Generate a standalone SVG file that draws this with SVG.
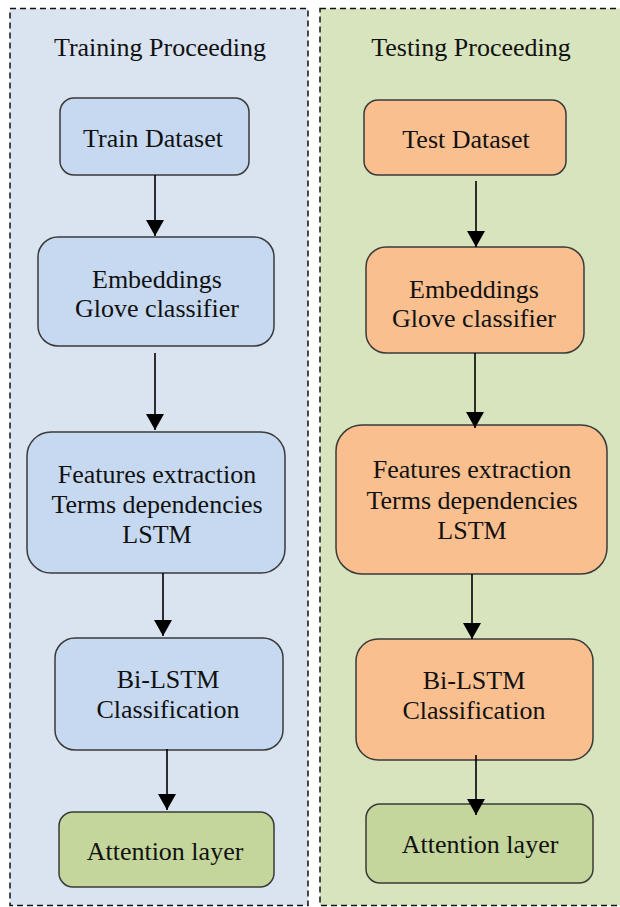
<svg xmlns="http://www.w3.org/2000/svg" width="620" height="907" viewBox="0 0 620 907">
<style>
.panel{stroke:#111;stroke-width:1.5;stroke-dasharray:6 4}
.node{stroke:#3a3a3a;stroke-width:1.5}
.blue{fill:#c6d9f0}
.orange{fill:#f9bf8f}
.green{fill:#c4d69b}
text{font-family:"Liberation Serif","Times New Roman",serif;font-size:26px;fill:#111;text-anchor:middle}
.conn{stroke:#000;stroke-width:1.6;fill:none;marker-end:url(#arr)}
</style>
<defs>
<marker id="arr" markerUnits="userSpaceOnUse" markerWidth="16" markerHeight="18" refX="16" refY="9" orient="auto" viewBox="0 0 16 18">
<path d="M0,0 L16,9 L0,18 z" fill="#000"/>
</marker>
</defs>
<rect width="620" height="907" fill="#fff"/>
<g id="panel-training">
<rect class="panel" x="10" y="8.5" width="298" height="897" fill="#dae3f0"/>
<text x="160" y="56">Training Proceeding</text>
</g>
<g id="panel-testing">
<rect class="panel" x="320" y="8.5" width="320" height="897" fill="#d7e4bd"/>
<text x="471" y="56">Testing Proceeding</text>
</g>
<g id="train-dataset">
<rect class="node blue" x="60" y="98" width="189" height="77" rx="14"/>
<text x="153" y="147">Train Dataset</text>
</g>
<g id="train-embeddings">
<rect class="node blue" x="38" y="237" width="236" height="109" rx="20"/>
<text x="157" y="288">Embeddings</text>
<text x="157" y="317">Glove classifier</text>
</g>
<g id="train-features">
<rect class="node blue" x="27" y="432" width="258" height="141" rx="24"/>
<text x="157" y="483">Features extraction</text>
<text x="157" y="513">Terms dependencies</text>
<text x="157" y="543">LSTM</text>
</g>
<g id="train-bilstm">
<rect class="node blue" x="55" y="638" width="228" height="112" rx="20"/>
<text x="168" y="688">Bi-LSTM</text>
<text x="168" y="718">Classification</text>
</g>
<g id="train-attention">
<rect class="node green" x="59" y="812" width="215" height="75" rx="14"/>
<text x="165" y="860">Attention layer</text>
</g>
<g id="test-dataset">
<rect class="node orange" x="364" y="100" width="202" height="75" rx="14"/>
<text x="466" y="148">Test Dataset</text>
</g>
<g id="test-embeddings">
<rect class="node orange" x="366" y="247" width="218" height="106" rx="20"/>
<text x="474" y="298">Embeddings</text>
<text x="474" y="327">Glove classifier</text>
</g>
<g id="test-features">
<rect class="node orange" x="336" y="425" width="271" height="149" rx="26"/>
<text x="472" y="478">Features extraction</text>
<text x="472" y="509">Terms dependencies</text>
<text x="472" y="539">LSTM</text>
</g>
<g id="test-bilstm">
<rect class="node orange" x="356" y="639" width="237" height="121" rx="22"/>
<text x="474" y="689">Bi-LSTM</text>
<text x="474" y="719">Classification</text>
</g>
<g id="test-attention">
<rect class="node green" x="366" y="804" width="227" height="79" rx="14"/>
<text x="480" y="853">Attention layer</text>
</g>
<g id="connectors">
<line class="conn" x1="155" y1="175" x2="155" y2="236"/>
<line class="conn" x1="155" y1="353" x2="155" y2="430"/>
<line class="conn" x1="163" y1="573" x2="163" y2="636"/>
<line class="conn" x1="167" y1="749" x2="167" y2="810"/>
<line class="conn" x1="476" y1="181" x2="476" y2="247"/>
<line class="conn" x1="475" y1="353" x2="475" y2="428"/>
<line class="conn" x1="472" y1="574" x2="472" y2="639"/>
<line class="conn" x1="476" y1="755" x2="476" y2="815"/>
</g>
</svg>
